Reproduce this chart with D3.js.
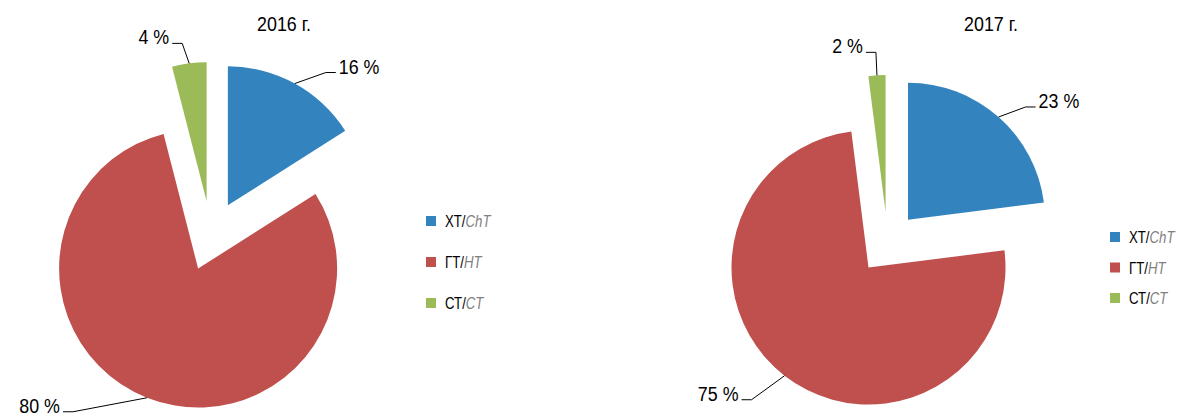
<!DOCTYPE html>
<html>
<head>
<meta charset="utf-8">
<script src="https://cdn.jsdelivr.net/npm/d3@7"></script>
<style>
  body { margin: 0; background: #fff; }
  svg text { font-family: "Liberation Sans", Arial, sans-serif; }
</style>
</head>
<body>
<div id="chart"></div>
<script>
// Data
const categoriesRu = ["ХТ", "ГТ", "СТ"];
const categoriesEn = ["ChT", "HT", "CT"];
const years = ["2016 г.", "2017 г."];
const values2016 = [16, 80, 4];
const values2017 = [23, 75, 2];

const colors = ["#3383be", "#c0504d", "#9bbb59"];

const width = 1178, height = 417;
// horizontal squeeze to imitate a condensed face
const narrow = 0.85;

// Layout per pie: centre, radius, explosion, legend place, label leader offsets
const layouts = [
    { cx: 211, cy: 236, r: 139, explode: 35, titleX: 284,
      legendX: 426, legendY: 216, legendStep: 41,
      leaders: [[31, -11, 1], [-74, 14, -1], [-7, -20, -1]] },
    { cx: 887.5, cy: 243, r: 137, explode: 31, titleX: 991,
      legendX: 1110, legendY: 232, legendStep: 30.5,
      leaders: [[27, -10, 1], [-33, 24, -1], [-1, -23, -1]] }
];

const svg = d3.select("#chart")
    .append("svg")
    .attr("width", width)
    .attr("height", height);

const pie = d3.pie().sort(null).value(d => d);

function drawPie(values, title, lay) {
    const g = svg.append("g")
        .attr("transform", `translate(${lay.cx}, ${lay.cy})`);

    const arc = d3.arc().innerRadius(0).outerRadius(lay.r);
    const arcs = pie(values);

    // offset of each slice along its middle angle
    const shift = d => {
        const a = (d.startAngle + d.endAngle) / 2;
        return [Math.sin(a) * lay.explode, -Math.cos(a) * lay.explode];
    };

    g.selectAll("path.slice")
        .data(arcs)
        .join("path")
        .attr("class", "slice")
        .attr("transform", d => `translate(${shift(d)})`)
        .attr("d", arc)
        .attr("fill", (d, i) => colors[i]);

    // Leader lines and labels
    arcs.forEach((d, i) => {
        const a = (d.startAngle + d.endAngle) / 2;
        const [sx, sy] = shift(d);
        const px = sx + Math.sin(a) * lay.r;
        const py = sy - Math.cos(a) * lay.r;
        const [dx, dy, side] = lay.leaders[i];
        const ex = px + dx, ey = py + dy;
        const hx = ex + side * 10;

        g.append("path")
            .attr("d", `M${px},${py}L${ex},${ey}L${hx},${ey}`)
            .attr("fill", "none")
            .attr("stroke", "#000")
            .attr("stroke-width", 1);

        g.append("text")
            .attr("transform", `translate(${hx + side * 3}, ${ey + 1}) scale(${narrow}, 1)`)
            .attr("text-anchor", side > 0 ? "start" : "end")
            .attr("font-size", 21)
            .attr("fill", "#000")
            .text(d.data + " %");
    });

    // Title
    svg.append("text")
        .attr("transform", `translate(${lay.titleX}, 31) scale(${narrow}, 1)`)
        .attr("text-anchor", "middle")
        .attr("font-size", 21)
        .attr("fill", "#000")
        .text(title);

    // Legend
    const legend = svg.append("g")
        .attr("transform", `translate(${lay.legendX}, ${lay.legendY})`);

    const items = legend.selectAll("g")
        .data(categoriesRu)
        .join("g")
        .attr("transform", (d, i) => `translate(0, ${i * lay.legendStep})`);

    items.append("rect")
        .attr("width", 10)
        .attr("height", 10)
        .attr("fill", (d, i) => colors[i]);

    const txt = items.append("text")
        .attr("transform", `translate(19, 11) scale(0.8, 1)`)
        .attr("font-size", 16.5);
    txt.append("tspan")
        .attr("fill", "#000")
        .text(d => d + "/");
    txt.append("tspan")
        .attr("fill", "#808080")
        .attr("font-style", "italic")
        .text((d, i) => categoriesEn[i]);
}

drawPie(values2016, years[0], layouts[0]);
drawPie(values2017, years[1], layouts[1]);
</script>
</body>
</html>
